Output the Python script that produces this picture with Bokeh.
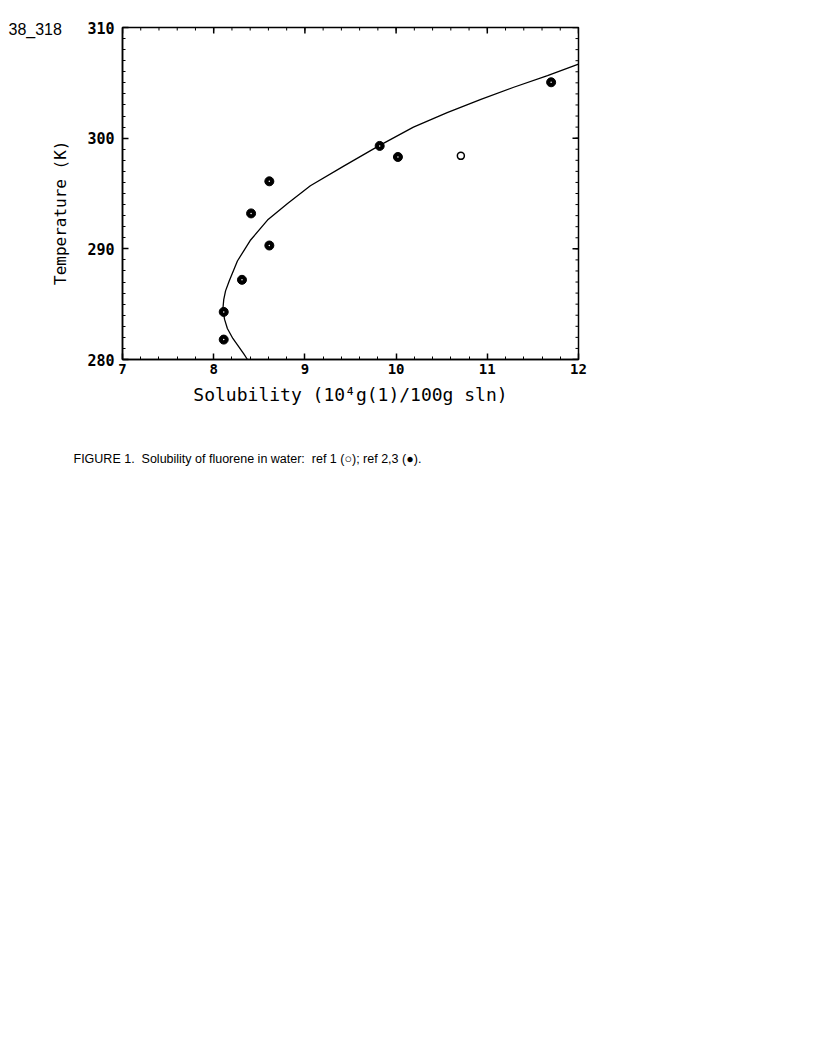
import math
from bokeh.plotting import figure
from bokeh.models import FixedTicker, Range1d, Title
from bokeh.embed import file_html
from bokeh.resources import INLINE

# ---- data ----
ref1_x = [10.71]
ref1_t = [298.4]
ref23_x = [8.11, 8.11, 8.31, 8.61, 8.41, 8.61, 9.82, 10.02, 11.70]
ref23_t = [281.8, 284.3, 287.2, 290.3, 293.2, 296.1, 299.3, 298.3, 305.05]
curve_x = [8.37, 8.33, 8.27, 8.21, 8.15, 8.12, 8.10, 8.11, 8.13, 8.17, 8.26, 8.40, 8.59,
           8.81, 9.06, 9.43, 9.81, 10.19, 10.56, 10.93, 11.29, 11.66, 12.0]
curve_t = [280.0, 280.5, 281.2, 281.9, 282.8, 283.6, 284.5, 285.4, 286.2, 287.1, 288.9,
           290.75, 292.6, 294.1, 295.7, 297.5, 299.3, 301.0, 302.3, 303.5, 304.6, 305.65, 306.7]
x_major = [7, 8, 9, 10, 11, 12]
x_minor = [round(7 + 0.2 * i, 1) for i in range(26)]
y_major = [280, 290, 300, 310]
y_minor = list(range(280, 311))
X0, X1, Y0, Y1 = 7, 12, 280, 310

x_title = "Solubility (10\u2074g(1)/100g sln)"
y_title = "Temperature (K)"
page_id = "38_318"
caption = "FIGURE 1.\u00a0 Solubility of fluorene in water:\u00a0 ref 1 (\u25cb); ref 2,3 (\u25cf)."

MONO = "DejaVu Sans Mono"
FL, FT, FW, FH = 122, 27, 456, 332   # frame placement in canvas pixels

p = figure(frame_width=FW, frame_height=FH, output_backend="svg", toolbar_location=None,
           x_range=Range1d(X0, X1), y_range=Range1d(Y0, Y1),
           min_border_left=FL, min_border_right=222, min_border_top=FT, min_border_bottom=145,
           background_fill_color="white", border_fill_color="white")
p.grid.visible = False
p.outline_line_color = "black"
p.outline_line_width = 1.5

def style(ax, major, minor):
    ax.ticker = FixedTicker(ticks=major, minor_ticks=minor)
    ax.axis_line_color = "black"
    ax.axis_line_width = 1.5
    ax.major_tick_in = 6
    ax.major_tick_out = 0
    ax.minor_tick_in = 3
    ax.minor_tick_out = 0
    ax.major_tick_line_width = 1.5
    ax.minor_tick_line_width = 1
    ax.major_label_text_font = MONO
    ax.major_label_text_font_size = "15px"
    ax.major_label_text_font_style = "bold"
    ax.major_label_text_color = "black"
    ax.axis_label_text_font = MONO
    ax.axis_label_text_font_style = "normal"
    ax.axis_label_text_color = "black"

style(p.xaxis[0], x_major, x_minor)
p.xaxis[0].major_label_standoff = 4
p.xaxis[0].major_label_text_font_size = "14px"
p.xaxis[0].axis_label = x_title
p.xaxis[0].axis_label_text_font_size = "18px"
p.xaxis[0].axis_label_standoff = 7

style(p.yaxis[0], y_major, y_minor)
p.yaxis[0].major_label_standoff = 8
p.yaxis[0].axis_label = y_title + "\u00a0" * 4
p.yaxis[0].axis_label_text_font_size = "16px"
p.yaxis[0].axis_label_standoff = 14

# mirrored inward ticks on the top and right edges (centred dashes, clipped by the frame)
p.scatter(x_major, [Y1] * len(x_major), marker="dash", angle=math.pi / 2, size=12,
          line_color="black", line_width=1.5)
p.scatter(x_minor, [Y1] * len(x_minor), marker="dash", angle=math.pi / 2, size=6,
          line_color="black", line_width=1)
p.scatter([X1] * len(y_major), y_major, marker="dash", size=12, line_color="black", line_width=1.5)
p.scatter([X1] * len(y_minor), y_minor, marker="dash", size=6, line_color="black", line_width=1)

p.line(curve_x, curve_t, line_color="black", line_width=1.3)
p.scatter(ref23_x, ref23_t, size=9, fill_color="black", line_color="black")
p.scatter(ref23_x, ref23_t, size=1.5, fill_color="white", line_color=None)
p.scatter(ref1_x, ref1_t, size=7, fill_color="white", line_color="black", line_width=1.5)

p.add_layout(Title(text=caption, align="left", offset=-49, standoff=85,
                   text_font="Liberation Sans", text_font_size="12.5px",
                   text_font_style="normal", text_color="black"), "below")
p.add_layout(Title(text=page_id, align="left", offset=-114, standoff=-20,
                   text_font="Liberation Sans", text_font_size="16px",
                   text_font_style="normal", text_color="black"), "above")

open("out.html", "w").write(file_html(p, INLINE))
